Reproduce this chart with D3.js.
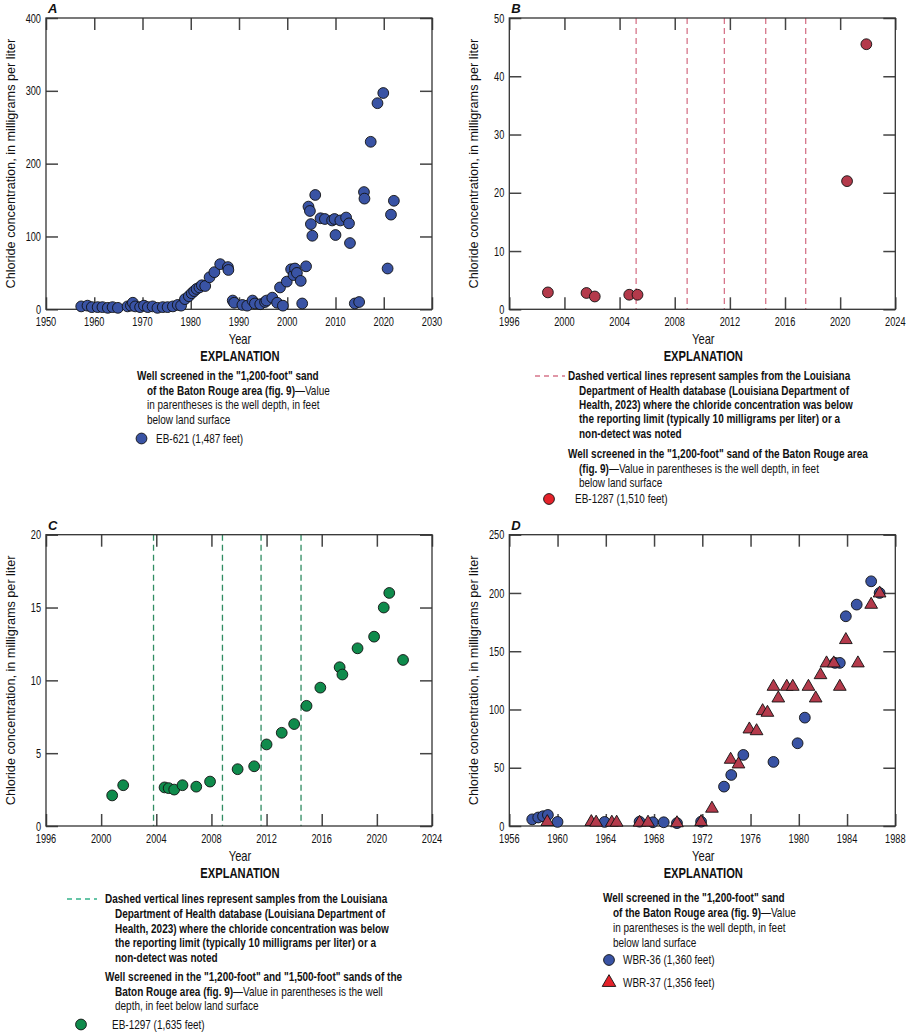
<!DOCTYPE html>
<html><head><meta charset="utf-8">
<script src="https://cdn.jsdelivr.net/npm/d3@7"></script>
<style>
body{margin:0;background:#fff}
svg{display:block}
text{font-family:"Liberation Sans",Arial,sans-serif;fill:#111}
</style>
</head><body>
<svg id="chart" width="907" height="1033"></svg>
<script>
// ---------------- DATA ----------------
// Panel A: EB-621 [year, chloride mg/L]
const eb621 = [
 [1957.3,4],[1958.6,5],[1959.5,3],[1960.7,3],[1961.7,3],[1962.8,2],[1963.8,3],[1964.9,2],
 [1966.9,4],[1967.6,5],[1968.0,9],[1968.5,4],[1969.5,3],[1970.3,5],[1971.1,3],[1972.1,4],
 [1973.1,2],[1974.2,3],[1975.2,3],[1976.3,4],[1977.3,6],[1978.0,5],
 [1978.8,14],[1979.6,18],[1980.2,22],[1980.7,25],[1981.2,28],[1981.8,30],[1982.3,33],[1983.0,32],
 [1983.9,44],[1984.9,51],[1986.1,62],[1987.7,58],[1987.8,54],
 [1988.7,12],[1989.0,9],[1990.7,6],[1991.7,5],[1992.8,12],[1993.3,8],[1994.4,7],[1995.4,10],
 [1995.7,12],[1996.9,16],[1997.9,9],[1998.5,30],[1999.1,5],[1999.9,38],[2000.8,55],[2001.3,47],
 [2001.6,56],[2002.0,50],[2002.8,39],[2003.1,8],[2003.9,59],[2004.4,141],[2004.7,135],[2004.9,117],
 [2005.2,101],[2005.8,157],[2006.9,125],[2007.8,124],[2009.3,122],[2009.8,124],[2010.0,102],
 [2011.0,122],[2012.2,126],[2012.8,118],[2013.0,91],[2014.0,8],[2014.9,10],[2015.9,161],[2016.0,152],
 [2017.3,230],[2018.7,283],[2019.9,297],[2020.8,56],[2021.5,130],[2022.1,149]
];
// Panel B: EB-1287
const eb1287 = [[1998.8,2.9],[2001.6,2.8],[2002.2,2.2],[2004.7,2.5],[2005.3,2.5],[2020.5,22],[2021.9,45.5]];
const eb1287NonDetect = [2005.2,2008.9,2011.6,2014.6,2017.5];
// Panel C: EB-1297
const eb1297 = [
 [2000.8,2.1],[2001.6,2.8],[2004.6,2.65],[2004.9,2.6],[2005.3,2.5],[2005.9,2.8],[2006.9,2.7],
 [2007.9,3.05],[2009.9,3.9],[2011.1,4.1],[2012.0,5.6],[2013.1,6.4],[2014.0,7.0],[2014.9,8.25],
 [2015.9,9.5],[2017.3,10.9],[2017.5,10.4],[2018.6,12.2],[2019.8,13.0],[2020.5,15.0],[2020.9,16.0],[2021.9,11.4]
];
const eb1297NonDetect = [2003.8,2008.8,2011.6,2014.5];
// Panel D: WBR-36 (circles) and WBR-37 (triangles)
const wbr36 = [
 [1957.9,5.7],[1958.4,7.3],[1958.8,8.4],[1959.2,9.5],[1960.0,3.5],[1963.9,3.5],[1966.8,3.7],
 [1967.9,3.2],[1968.8,3.2],[1969.9,2.5],[1971.9,3.7],[1973.8,33.8],[1974.4,43.8],[1975.4,61],
 [1977.9,55],[1979.9,71],[1980.5,93],[1983.0,140],[1983.4,140],[1983.9,180],[1984.8,190],
 [1986.0,210],[1986.7,200]
];
const wbr37 = [
 [1959.15,3.5],[1962.8,3.5],[1963.2,3],[1964.5,3],[1964.9,3],[1966.8,3],[1967.5,3],[1969.9,2.5],
 [1971.9,3.5],[1972.8,15],[1974.35,57],[1975.0,53],[1975.9,83],[1976.5,81.5],[1977.0,98.7],[1977.4,97.3],
 [1977.9,119.6],[1978.3,109.6],[1979.0,119.6],[1979.5,119.6],[1980.8,119.6],[1981.4,109.6],
 [1981.8,129.6],[1982.3,139.7],[1982.9,139.7],[1983.4,119.6],[1983.9,159.7],[1984.9,139.7],
 [1986.0,190],[1986.7,199.7]
];
// Tick labels
const ticksAx = [1950,1960,1970,1980,1990,2000,2010,2020,2030];
const ticksAy = [0,100,200,300,400];
const ticksBx = [1996,2000,2004,2008,2012,2016,2020,2024];
const ticksBy = [0,10,20,30,40,50];
const ticksCx = [1996,2000,2004,2008,2012,2016,2020,2024];
const ticksCy = [0,5,10,15,20];
const ticksDx = [1956,1960,1964,1968,1972,1976,1980,1984,1988];
const ticksDy = [0,50,100,150,200,250];

// ---------------- DRAW ----------------
const svg = d3.select('#chart');
const BLUE = '#3953a4', DKRED = '#b43a4b', GREEN = '#0f8b4c', RED = '#e5222a';
const yTitle = 'Chloride concentration, in milligrams per liter';

// measure helper
function measure(str, size, weight){
  const t = svg.append('text').style('font-size',size+'px').style('font-weight',weight||'normal').text(str);
  const w = t.node().getComputedTextLength(); t.remove(); return w;
}
const TICK_SIZE = 13;
const fTick = 20.5 / measure('1950', TICK_SIZE);
const TITLE_SIZE = 13.5;
const fTitle = 250 / measure(yTitle, TITLE_SIZE);
const LEG_SIZE = 12.5;
const fLeg = 182 / measure('Well screened in the "1,200-foot" sand', LEG_SIZE, 'bold');

// squeezed text
function T(parent, x, y, str, o){
  o = o||{};
  const t = parent.append('text')
    .attr('transform', `translate(${x},${y})${o.rot?' rotate(-90)':''} scale(${o.f},1)`)
    .attr('text-anchor', o.anchor||'start')
    .style('font-size', o.size+'px').style('font-weight', o.bold?'bold':'normal');
  if (o.italic) t.style('font-style','italic');
  if (str!==null) t.text(str);
  return t;
}

function panel(o){
  const g = svg.append('g');
  const x = d3.scaleLinear().domain(o.xd).range([o.left,o.right]);
  const y = d3.scaleLinear().domain(o.yd).range([o.bottom,o.top]);
  (o.dashes||[]).forEach(d=>{
    g.append('line').attr('x1',x(d)).attr('x2',x(d)).attr('y1',o.top).attr('y2',o.bottom)
     .attr('stroke',o.dashColor).attr('stroke-width',1.3).attr('stroke-dasharray','6,4');
  });
  const tickStyle = s => { s.select('.domain').remove(); s.selectAll('line').attr('stroke','#444').attr('stroke-width',1.5);
     s.selectAll('text').remove(); };
  g.append('g').attr('transform',`translate(0,${o.bottom})`)
   .call(d3.axisBottom(x).tickValues(o.xt).tickSize(-12)).call(tickStyle);
  g.append('g').attr('transform',`translate(0,${o.top})`)
   .call(d3.axisTop(x).tickValues(o.xt).tickSize(-12)).call(tickStyle);
  g.append('g').attr('transform',`translate(${o.left},0)`)
   .call(d3.axisLeft(y).tickValues(o.yt).tickSize(-12)).call(tickStyle);
  g.append('g').attr('transform',`translate(${o.right},0)`)
   .call(d3.axisRight(y).tickValues(o.yt).tickSize(-12)).call(tickStyle);
  g.append('rect').attr('x',o.left).attr('y',o.top).attr('width',o.right-o.left).attr('height',o.bottom-o.top)
   .attr('fill','none').attr('stroke','#333').attr('stroke-width',1.3);
  // tick labels
  o.xt.forEach(t=>T(g, x(t), o.bottom+17, String(t), {f:fTick,size:TICK_SIZE,anchor:'middle'}));
  o.yt.forEach(t=>T(g, o.left-5, y(t)+4.6, String(t), {f:fTick,size:TICK_SIZE,anchor:'end'}));
  // series
  o.series.forEach(s=>{
    if(s.shape==='tri'){
      g.selectAll(null).data(s.data).enter().append('path')
       .attr('d',d3.symbol(d3.symbolTriangle,70)())
       .attr('transform',d=>`translate(${x(d[0])},${y(d[1])})`)
       .attr('fill',s.color).attr('stroke','#111').attr('stroke-width',0.9);
    } else {
      g.selectAll(null).data(s.data).enter().append('circle')
       .attr('cx',d=>x(d[0])).attr('cy',d=>y(d[1])).attr('r',5.4)
       .attr('fill',s.color).attr('stroke','#111').attr('stroke-width',0.9);
    }
  });
  T(g, o.left+2, o.top-5, o.label, {f:1,size:13,bold:true,italic:true});
  T(g, o.left-31, (o.top+o.bottom)/2, yTitle, {f:fTitle,size:TITLE_SIZE,anchor:'middle',rot:true});
  T(g, (o.left+o.right)/2+1, o.bottom+35, 'Year', {f:fLeg,size:14,anchor:'middle'});
  T(g, (o.left+o.right)/2+1, o.bottom+52, 'EXPLANATION', {f:fLeg,size:14,bold:true,anchor:'middle'});
  return {x,y};
}

panel({left:46,right:432,top:18,bottom:309.3,xd:[1950,2030],yd:[0,400],xt:ticksAx,yt:ticksAy,label:'A',
  series:[{data:eb621,color:BLUE}]});
panel({left:509.3,right:895.3,top:18,bottom:309.3,xd:[1996,2024],yd:[0,50],xt:ticksBx,yt:ticksBy,label:'B',
  dashes:eb1287NonDetect,dashColor:'#d6758a',series:[{data:eb1287,color:DKRED}]});
panel({left:46,right:432,top:534.7,bottom:826,xd:[1996,2024],yd:[0,20],xt:ticksCx,yt:ticksCy,label:'C',
  dashes:eb1297NonDetect,dashColor:'#2f8c62',series:[{data:eb1297,color:GREEN}]});
panel({left:509.3,right:895.3,top:534.7,bottom:826,xd:[1956,1988],yd:[0,250],xt:ticksDx,yt:ticksDy,label:'D',
  series:[{data:wbr36,color:BLUE},{data:wbr37,color:DKRED,shape:'tri'}]});

// ---------------- LEGENDS ----------------
function line(x,yc,parts){
  const t = T(svg, x, yc+4.4, null, {f:fLeg,size:LEG_SIZE});
  parts.forEach(p=>{ t.append('tspan').style('font-weight',p[1]?'bold':'normal').text(p[0]); });
}
const dashText = ['Dashed vertical lines represent samples from the Louisiana',
 'Department of Health database (Louisiana Department of',
 'Health, 2023) where the chloride concentration was below',
 'the reporting limit (typically 10 milligrams per liter) or a',
 'non-detect was noted'];

// A
line(137,376,[['Well screened in the "1,200-foot" sand',1]]);
line(147,390.5,[['of the Baton Rouge area (fig. 9)',1],['\u2014Value',0]]);
line(147,405,[['in parentheses is the well depth, in feet',0]]);
line(147,419.5,[['below land surface',0]]);
svg.append('circle').attr('cx',141.5).attr('cy',438.5).attr('r',5.4).attr('fill',BLUE).attr('stroke','#111').attr('stroke-width',0.9);
line(156,438.5,[['EB-621 (1,487 feet)',0]]);

// B
svg.append('line').attr('x1',535).attr('x2',565).attr('y1',376).attr('y2',376).attr('stroke','#d6758a').attr('stroke-width',1.3).attr('stroke-dasharray','5,4');
const bY=[375.7,390.3,405,419,434];
dashText.forEach((s,i)=>line(i?579:568,bY[i],[[s,1]]));
line(568,454,[['Well screened in the "1,200-foot" sand of the Baton Rouge area',1]]);
line(579,468.5,[['(fig. 9)',1],['\u2014Value in parentheses is the well depth, in feet',0]]);
line(579,483,[['below land surface',0]]);
svg.append('circle').attr('cx',549).attr('cy',499).attr('r',5.4).attr('fill',RED).attr('stroke','#111').attr('stroke-width',0.9);
line(575,499,[['EB-1287 (1,510 feet)',0]]);

// C
svg.append('line').attr('x1',67).attr('x2',97).attr('y1',899).attr('y2',899).attr('stroke','#35b28a').attr('stroke-width',1.3).attr('stroke-dasharray','5,4');
const cY=[899,914,928.7,943,957.5];
dashText.forEach((s,i)=>line(i?115:105,cY[i],[[s,1]]));
line(105,976.7,[['Well screened in the "1,200-foot" and "1,500-foot" sands of the',1]]);
line(115,991.5,[['Baton Rouge area (fig. 9)',1],['\u2014Value in parentheses is the well',0]]);
line(115,1005.7,[['depth, in feet below land surface',0]]);
svg.append('circle').attr('cx',81).attr('cy',1024.5).attr('r',5.4).attr('fill',GREEN).attr('stroke','#111').attr('stroke-width',0.9);
line(112,1024.5,[['EB-1297 (1,635 feet)',0]]);

// D
line(603,898,[['Well screened in the "1,200-foot" sand',1]]);
line(613,913,[['of the Baton Rouge area (fig. 9)',1],['\u2014Value',0]]);
line(613,928,[['in parentheses is the well depth, in feet',0]]);
line(613,943,[['below land surface',0]]);
svg.append('circle').attr('cx',609).attr('cy',960).attr('r',5.4).attr('fill',BLUE).attr('stroke','#111').attr('stroke-width',0.9);
line(623,960,[['WBR-36 (1,360 feet)',0]]);
svg.append('path').attr('d',d3.symbol(d3.symbolTriangle,80)()).attr('transform','translate(609,982.5)').attr('fill',RED).attr('stroke','#111').attr('stroke-width',0.9);
line(623,982.5,[['WBR-37 (1,356 feet)',0]]);
</script>
</body></html>
